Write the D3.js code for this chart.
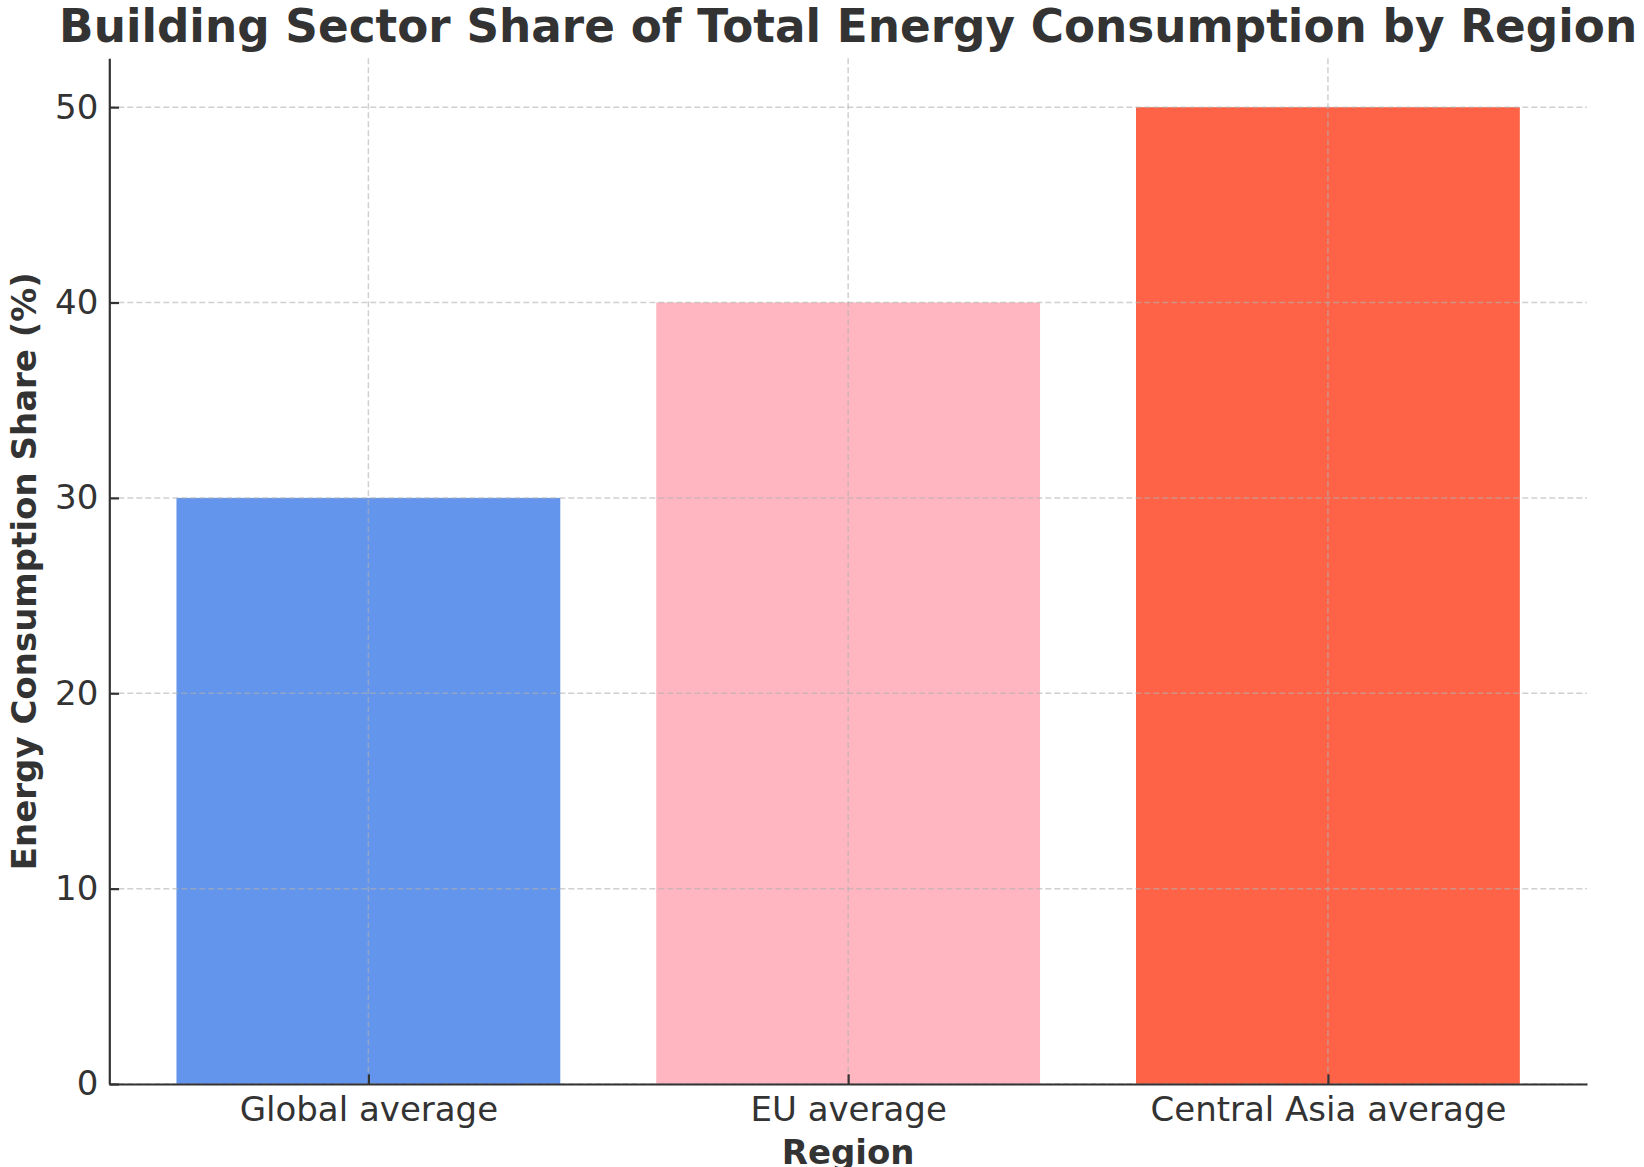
<!DOCTYPE html>
<html>
<head>
<meta charset="utf-8">
<script src="https://cdn.jsdelivr.net/npm/d3@7"></script>
<style>
  body { margin: 0; background: #fff; }
  text { font-family: "DejaVu Sans", sans-serif; fill: #333; }
</style>
</head>
<body>
<div id="chart"></div>
<script>
// chart data
const regions = ["Global average", "EU average", "Central Asia average"];
const shares = [30, 40, 50];
const barColors = ["#6495ED", "#FFB6C1", "#FF6347"];
const yTicks = [0, 10, 20, 30, 40, 50];

const width = 1644,
  height = 1167;
const margin = { top: 58.3, right: 57, bottom: 83, left: 109.3 };

const svg = d3
  .select("#chart")
  .append("svg")
  .attr("width", width)
  .attr("height", height);

//x is a linear scale over bar index, like matplotlib (bar width 0.8, 5% margins)
const barWidth = 0.8;
const x = d3
  .scaleLinear()
  .domain([-0.54, regions.length - 1 + 0.54])
  .range([margin.left, width - margin.right]);

const y = d3
  .scaleLinear()
  .domain([0, 52.5])
  .range([height - margin.bottom, margin.top]);

const data = regions.map((r, i) => ({ region: r, share: shares[i], color: barColors[i], i: i }));

//bars
svg
  .append("g")
  .selectAll("rect")
  .data(data)
  .enter()
  .append("rect")
  .attr("x", (d) => x(d.i - barWidth / 2))
  .attr("width", (d) => x(barWidth) - x(0))
  .attr("y", (d) => y(d.share))
  .attr("height", (d) => y(0) - y(d.share))
  .attr("fill", (d) => d.color);

//grid lines (drawn over the bars)
const grid = svg.append("g").attr("class", "grid");
grid
  .selectAll(".hgrid")
  .data(yTicks)
  .enter()
  .append("line")
  .attr("x1", margin.left)
  .attr("x2", width - margin.right)
  .attr("y1", (d) => y(d))
  .attr("y2", (d) => y(d))
  .attr("stroke", "#b0b0b0")
  .attr("stroke-opacity", 0.6)
  .attr("stroke-width", 1.5)
  .attr("stroke-dasharray", "6,3");
grid
  .selectAll(".vgrid")
  .data(data)
  .enter()
  .append("line")
  .attr("x1", (d) => x(d.i))
  .attr("x2", (d) => x(d.i))
  .attr("y1", margin.top)
  .attr("y2", height - margin.bottom)
  .attr("stroke", "#b0b0b0")
  .attr("stroke-opacity", 0.6)
  .attr("stroke-width", 1.5)
  .attr("stroke-dasharray", "6,3");

//y axis (ticks point inward)
const yAxis = svg
  .append("g")
  .attr("transform", "translate(" + margin.left + ",0)")
  .call(d3.axisLeft(y).tickValues(yTicks).tickSizeInner(-9.7).tickSizeOuter(0).tickPadding(11));
yAxis.select(".domain").attr("stroke", "#333").attr("stroke-width", 2.2);
yAxis.selectAll(".tick line").attr("stroke", "#333").attr("stroke-width", 2.2);
yAxis
  .selectAll(".tick text")
  .style("font-size", "34px")
  .style("font-family", "DejaVu Sans")
  .attr("fill", "#333");

//x axis
const xAxis = svg
  .append("g")
  .attr("transform", "translate(0," + (height - margin.bottom) + ")")
  .call(
    d3
      .axisBottom(x)
      .tickValues(data.map((d) => d.i))
      .tickFormat((d) => regions[d])
      .tickSizeInner(-9.7)
      .tickSizeOuter(0)
      .tickPadding(12)
  );
xAxis.select(".domain").attr("stroke", "#333").attr("stroke-width", 2.2);
xAxis.selectAll(".tick line").attr("stroke", "#333").attr("stroke-width", 2.2);
xAxis
  .selectAll(".tick text")
  .attr("dy", null)
  .attr("y", 37)
  .style("font-size", "34px")
  .style("font-family", "DejaVu Sans")
  .attr("fill", "#333");

//title
svg
  .append("text")
  .attr("x", (margin.left + width - margin.right) / 2)
  .attr("y", 42)
  .attr("text-anchor", "middle")
  .style("font-size", "45.3px")
  .style("font-weight", "bold")
  .text("Building Sector Share of Total Energy Consumption by Region");

//axis labels
svg
  .append("text")
  .attr("x", (margin.left + width - margin.right) / 2)
  .attr("y", 1164)
  .attr("text-anchor", "middle")
  .style("font-size", "34px")
  .style("font-weight", "bold")
  .text("Region");

svg
  .append("text")
  .attr("transform", "translate(36," + (margin.top + height - margin.bottom) / 2 + ") rotate(-90)")
  .attr("text-anchor", "middle")
  .style("font-size", "34px")
  .style("font-weight", "bold")
  .text("Energy Consumption Share (%)");
</script>
</body>
</html>
